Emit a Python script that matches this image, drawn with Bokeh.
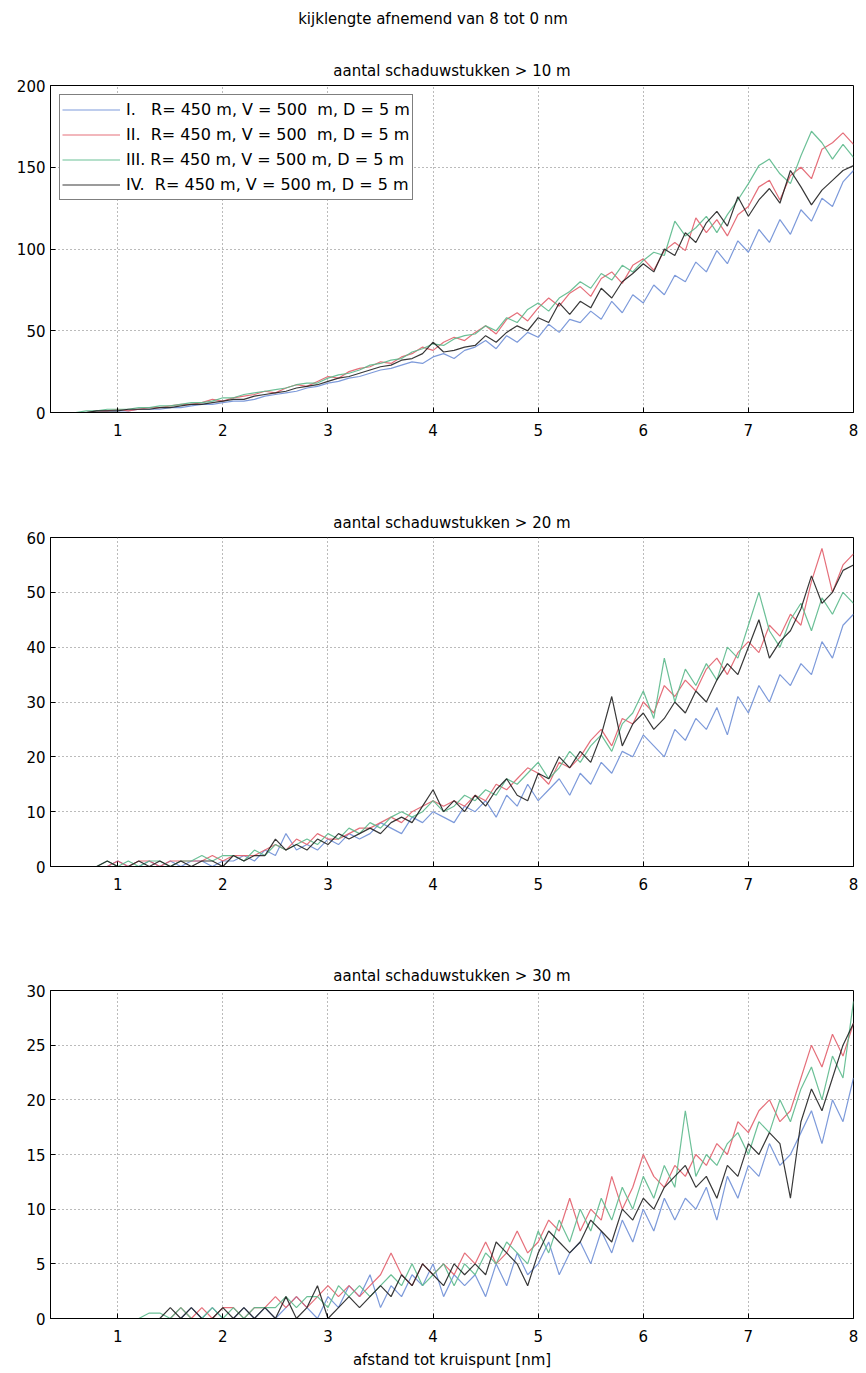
from bokeh.plotting import figure
from bokeh.models import Range1d, Title, FixedTicker, Legend, LegendItem, Div
from bokeh.layouts import column
from bokeh.embed import file_html
from bokeh.resources import INLINE

FONT = "DejaVu Sans"

# shared x positions: afstand tot kruispunt [nm]
x = [0.4, 0.5, 0.6, 0.7, 0.8, 0.9, 1.0, 1.1, 1.2, 1.3,
     1.4, 1.5, 1.6, 1.7, 1.8, 1.9, 2.0, 2.1, 2.2, 2.3,
     2.4, 2.5, 2.6, 2.7, 2.8, 2.9, 3.0, 3.1, 3.2, 3.3,
     3.4, 3.5, 3.6, 3.7, 3.8, 3.9, 4.0, 4.1, 4.2, 4.3,
     4.4, 4.5, 4.6, 4.7, 4.8, 4.9, 5.0, 5.1, 5.2, 5.3,
     5.4, 5.5, 5.6, 5.7, 5.8, 5.9, 6.0, 6.1, 6.2, 6.3,
     6.4, 6.5, 6.6, 6.7, 6.8, 6.9, 7.0, 7.1, 7.2, 7.3,
     7.4, 7.5, 7.6, 7.7, 7.8, 7.9, 8.0]

labels = ["I.   R= 450 m, V = 500  m, D = 5 m",
          "II.  R= 450 m, V = 500  m, D = 5 m",
          "III. R= 450 m, V = 500 m, D = 5 m",
          "IV.  R= 450 m, V = 500 m, D = 5 m"]
colors = ["#6f8fd6", "#e25f6c", "#5cb98c", "#222222"]

titles = ["aantal schaduwstukken > 10 m",
          "aantal schaduwstukken > 20 m",
          "aantal schaduwstukken > 30 m"]
main_title = "kijklengte afnemend van 8 tot 0 nm"
xlabel = "afstand tot kruispunt [nm]"

x_ticks = [1, 2, 3, 4, 5, 6, 7, 8]
y_ticks_10 = [0, 50, 100, 150, 200]
y_ticks_20 = [0, 10, 20, 30, 40, 50, 60]
y_ticks_30 = [0, 5, 10, 15, 20, 25, 30]

# ---- panel 1: > 10 m
p10_I = [0, 0, 0, 0, 1, 1, 1, 1, 2, 2,
         2, 3, 3, 4, 5, 5, 6, 7, 7, 8,
         10, 11, 12, 13, 15, 16, 18, 19, 21, 22,
         24, 26, 27, 29, 31, 30, 34, 36, 33, 38,
         40, 44, 39, 47, 43, 49, 46, 54, 49, 57,
         55, 62, 57, 68, 61, 72, 67, 78, 72, 84,
         80, 92, 86, 99, 91, 105, 98, 112, 104, 118,
         109, 124, 117, 131, 126, 141, 148]
p10_II = [0, 0, 0, 0, 1, 1, 2, 1, 2, 3,
          3, 4, 5, 5, 6, 8, 7, 9, 10, 11,
          13, 12, 15, 17, 16, 19, 22, 21, 25, 27,
          28, 31, 30, 34, 36, 40, 38, 43, 46, 44,
          49, 53, 48, 57, 61, 56, 64, 70, 65, 73,
          77, 71, 82, 86, 79, 90, 94, 87, 99, 104,
          99, 119, 110, 118, 108, 121, 126, 138, 142, 130,
          145, 150, 143, 161, 165, 171, 164]
p10_III = [0, 0, 0, 1, 1, 2, 2, 2, 3, 3,
           4, 4, 5, 6, 6, 7, 9, 9, 11, 12,
           13, 14, 15, 17, 18, 18, 21, 23, 24, 26,
           29, 30, 32, 33, 37, 39, 42, 41, 45, 47,
           48, 53, 50, 58, 55, 63, 67, 62, 70, 74,
           80, 76, 85, 81, 90, 86, 93, 98, 96, 117,
           108, 113, 120, 110, 121, 130, 140, 151, 155, 146,
           140, 157, 172, 165, 155, 164, 156]
p10_IV = [0, 0, 0, 0, 1, 1, 1, 2, 2, 2,
          3, 3, 4, 5, 5, 6, 7, 8, 8, 10,
          11, 12, 13, 15, 16, 17, 19, 21, 22, 24,
          26, 28, 29, 32, 33, 36, 43, 37, 38, 40,
          41, 47, 43, 49, 53, 50, 58, 55, 67, 60,
          68, 64, 76, 70, 80, 85, 91, 86, 100, 96,
          110, 104, 116, 123, 114, 132, 120, 130, 137, 128,
          148, 138, 127, 136, 142, 148, 151]

# ---- panel 2: > 20 m
p20_I = [0, 0, 0, 0, 0, 0, 1, 0, 0, 1,
         0, 1, 0, 1, 1, 0, 1, 1, 2, 1,
         3, 2, 6, 3, 4, 3, 5, 4, 6, 5,
         6, 8, 7, 6, 9, 8, 10, 9, 8, 11,
         10, 12, 9, 13, 11, 15, 12, 14, 16, 13,
         17, 15, 19, 17, 21, 20, 24, 22, 20, 25,
         23, 27, 25, 29, 24, 31, 28, 33, 30, 35,
         33, 37, 35, 41, 38, 44, 46]
p20_II = [0, 0, 0, 0, 0, 0, 1, 0, 1, 1,
          0, 1, 1, 1, 1, 2, 1, 2, 2, 2,
          3, 4, 3, 5, 4, 6, 5, 5, 6, 7,
          7, 8, 9, 8, 10, 11, 12, 11, 12, 11,
          13, 12, 15, 14, 16, 18, 17, 15, 19, 18,
          20, 23, 25, 22, 27, 26, 30, 28, 33, 31,
          34, 32, 36, 38, 35, 39, 41, 39, 44, 42,
          46, 44, 52, 58, 50, 55, 57]
p20_III = [0, 0, 0, 0, 0, 1, 0, 1, 0, 1,
           1, 0, 1, 1, 2, 1, 2, 2, 1, 3,
           2, 4, 3, 4, 5, 4, 6, 5, 7, 6,
           8, 7, 9, 10, 9, 10, 12, 10, 11, 13,
           12, 14, 13, 16, 15, 17, 19, 16, 18, 21,
           19, 22, 24, 21, 26, 28, 32, 27, 38, 30,
           36, 33, 37, 34, 40, 38, 44, 50, 43, 40,
           45, 48, 43, 49, 46, 50, 48]
p20_IV = [0, 0, 0, 0, 0, 1, 0, 0, 1, 0,
          1, 0, 1, 0, 1, 1, 0, 2, 1, 2,
          2, 5, 3, 4, 3, 5, 4, 6, 5, 6,
          7, 6, 8, 9, 8, 11, 14, 10, 12, 10,
          13, 11, 14, 16, 13, 12, 17, 16, 20, 18,
          21, 19, 24, 31, 22, 26, 28, 25, 27, 30,
          28, 32, 30, 34, 37, 35, 40, 45, 38, 41,
          43, 47, 53, 48, 50, 54, 55]

# ---- panel 3: > 30 m
p30_I = [0, 0, 0, 0, 0, 0, 0, 0, 0, 0,
         0, 0, 0, 1, 0, 1, 0, 0, 1, 0,
         1, 0, 1, 2, 1, 0, 2, 1, 3, 2,
         4, 1, 3, 2, 4, 3, 5, 2, 4, 3,
         4, 2, 5, 3, 6, 4, 5, 7, 4, 6,
         7, 5, 8, 6, 9, 7, 10, 8, 11, 9,
         11, 10, 12, 9, 13, 11, 14, 13, 16, 14,
         15, 17, 19, 16, 20, 18, 22]
p30_II = [0, 0, 0, 0, 0, 0, 0, 0, 0, 0,
          0, 0, 1, 0, 1, 0, 1, 1, 0, 1,
          1, 2, 1, 2, 1, 2, 3, 2, 3, 2,
          3, 4, 6, 4, 3, 5, 4, 5, 4, 6,
          5, 7, 5, 6, 8, 6, 7, 9, 8, 11,
          8, 10, 9, 13, 10, 12, 15, 13, 12, 14,
          13, 15, 14, 16, 15, 18, 17, 19, 20, 18,
          19, 22, 25, 23, 26, 24, 27]
p30_III = [0, 0, 0, 0, 0, 0, 0, 0, 0, 0.5,
           0.5, 0, 1, 0, 0, 1, 0, 1, 0, 1,
           1, 1, 2, 1, 2, 2, 1, 3, 2, 3,
           2, 3, 4, 3, 5, 3, 4, 5, 3, 5,
           4, 6, 5, 7, 6, 5, 8, 6, 9, 7,
           10, 8, 11, 9, 12, 10, 13, 11, 14, 12,
           19, 13, 15, 14, 16, 17, 15, 18, 17, 20,
           18, 21, 23, 20, 24, 22, 29]
p30_IV = [0, 0, 0, 0, 0, 0, 0, 0, 0, 0,
          0, 1, 0, 1, 0, 0, 1, 0, 1, 0,
          1, 0, 2, 0, 1, 3, 0, 1, 2, 1,
          2, 3, 2, 4, 3, 5, 4, 3, 5, 4,
          5, 4, 7, 6, 5, 3, 6, 8, 7, 6,
          7, 9, 8, 7, 10, 9, 11, 10, 12, 13,
          14, 12, 13, 11, 14, 13, 16, 15, 17, 16,
          11, 18, 21, 19, 22, 25, 27]


def make_panel(height, top, bottom, left, right, ymax, yticks, series, title,
               xlab=None, legend=False):
    p = figure(width=866, height=height, x_range=Range1d(0.36, 8.0),
               y_range=Range1d(0, ymax), output_backend="svg",
               toolbar_location=None, min_border_top=top,
               min_border_bottom=bottom, min_border_left=left,
               min_border_right=right)
    p.title.visible = False
    p.outline_line_color = "black"
    p.outline_line_width = 1
    p.background_fill_color = "white"
    p.border_fill_color = "white"

    xax = p.xaxis[0]
    yax = p.yaxis[0]
    for ax in (xax, yax):
        ax.major_tick_in = 5
        ax.major_tick_out = 0
        ax.minor_tick_line_color = None
        ax.axis_line_color = "black"
        ax.major_label_text_font = FONT
        ax.major_label_text_font_size = "15px"
        ax.major_label_text_color = "black"
    xax.ticker = FixedTicker(ticks=x_ticks)
    yax.ticker = FixedTicker(ticks=yticks)
    xax.major_label_standoff = 11
    yax.major_label_standoff = 5

    p.xgrid.ticker = FixedTicker(ticks=x_ticks)
    p.ygrid.ticker = FixedTicker(ticks=yticks)
    for g in (p.xgrid[0], p.ygrid[0]):
        g.grid_line_color = "#777777"
        g.grid_line_dash = "1 3"
        g.grid_line_width = 1

    items = []
    for ys, c, lab in zip(series, colors, labels):
        r = p.line(x, ys, line_color=c, line_width=1.2, line_alpha=0.9)
        items.append(LegendItem(label=lab, renderers=[r]))

    if legend:
        lg = Legend(items=items, location="top_left")
        lg.border_line_color = "black"
        lg.border_line_width = 1
        lg.background_fill_alpha = 1
        lg.label_text_font = FONT
        lg.label_text_font_size = "16px"
        lg.label_text_color = "black"
        lg.glyph_width = 58
        lg.glyph_height = 25
        lg.label_height = 25
        lg.spacing = 0
        lg.padding = 2
        lg.margin = 9
        lg.label_standoff = 6
        p.add_layout(lg)

    if xlab:
        xax.axis_label = xlab
        xax.axis_label_text_font = FONT
        xax.axis_label_text_font_size = "15px"
        xax.axis_label_text_font_style = "normal"
        xax.axis_label_text_color = "black"
        xax.axis_label_standoff = 6

    p.add_layout(Title(text=title, align="center", text_font=FONT,
                       text_font_size="15px", text_font_style="normal",
                       text_color="black", standoff=11), "above")
    return p


head = Div(text=main_title, width=866, height=40,
           styles={"text-align": "center", "font-family": FONT,
                   "font-size": "15px", "color": "black",
                   "padding-top": "9px", "margin": "0"})
f1 = make_panel(415, 45, 43, 50, 3, 200, y_ticks_10,
                [p10_I, p10_II, p10_III, p10_IV], titles[0], legend=True)
f2 = make_panel(455, 82, 44, 45, 4, 60, y_ticks_20,
                [p20_I, p20_II, p20_III, p20_IV], titles[1])
f3 = make_panel(463, 80, 55, 43, 13, 30, y_ticks_30,
                [p30_I, p30_II, p30_III, p30_IV], titles[2], xlab=xlabel)

layout = column(head, f1, f2, f3, spacing=0)
open("out.html", "w").write(file_html(layout, INLINE))
